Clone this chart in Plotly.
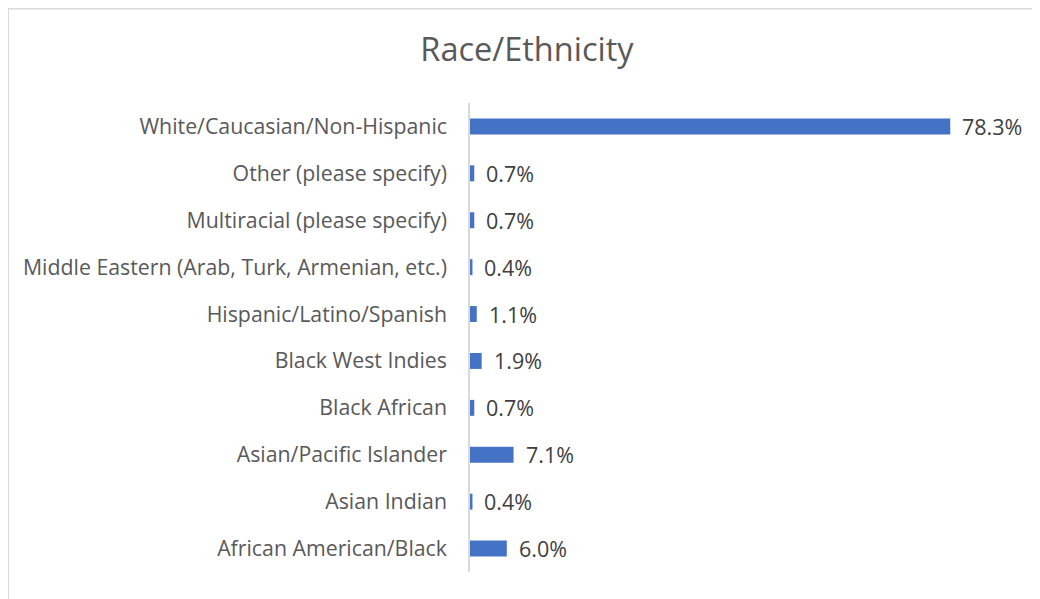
import plotly.graph_objects as go

categories = [
    "African American/Black",
    "Asian Indian",
    "Asian/Pacific Islander",
    "Black African",
    "Black West Indies",
    "Hispanic/Latino/Spanish",
    "Middle Eastern (Arab, Turk, Armenian, etc.)",
    "Multiracial (please specify)",
    "Other (please specify)",
    "White/Caucasian/Non-Hispanic",
]
percent = [6.0, 0.4, 7.1, 0.7, 1.9, 1.1, 0.4, 0.7, 0.7, 78.3]

FONT = "Open Sans"
GREY = "#595959"
BLUE = "#4472C4"
FRAME = "#d9d9d9"

fig = go.Figure()

fig.add_trace(go.Bar(
    x=percent,
    y=categories,
    orientation="h",
    marker=dict(color=BLUE, line=dict(width=0)),
    showlegend=False,
    hoverinfo="x+y",
))

# data labels, offset right of each bar end
for cat, val in zip(categories, percent):
    fig.add_annotation(
        x=val, y=cat, text=f"{val:.1f}%",
        xanchor="left", yanchor="middle", xshift=10,
        showarrow=False,
        font=dict(family=FONT, size=21.5, color="#404040"),
    )

# chart-area frame (only the left and top edges are in view)
fig.add_shape(type="line", xref="paper", yref="paper",
              x0=-0.837, x1=-0.837, y0=-0.3, y1=1.2015,
              line=dict(color=FRAME, width=2), layer="below")
fig.add_shape(type="line", xref="paper", yref="paper",
              x0=-0.837, x1=1.3, y0=1.2015, y1=1.2015,
              line=dict(color=FRAME, width=2), layer="below")

fig.update_layout(
    width=1040,
    height=599,
    margin=dict(l=462, r=26, t=95, b=35),
    paper_bgcolor="white",
    plot_bgcolor="white",
    bargap=0.66,
    title=dict(
        text="Race/Ethnicity",
        x=0.499, xanchor="center",
        y=0.930, yanchor="middle",
        font=dict(family=FONT, size=32.5, color=GREY),
    ),
    xaxis=dict(
        range=[0, 90],
        showgrid=False,
        zeroline=False,
        showticklabels=False,
        showline=False,
        fixedrange=True,
    ),
    yaxis=dict(
        showline=True,
        linecolor=FRAME,
        linewidth=1.5,
        ticks="",
        ticklabelstandoff=17,
        tickfont=dict(family=FONT, size=21.3, color=GREY),
        showgrid=False,
        fixedrange=True,
    ),
)

fig.write_html("out.html")
